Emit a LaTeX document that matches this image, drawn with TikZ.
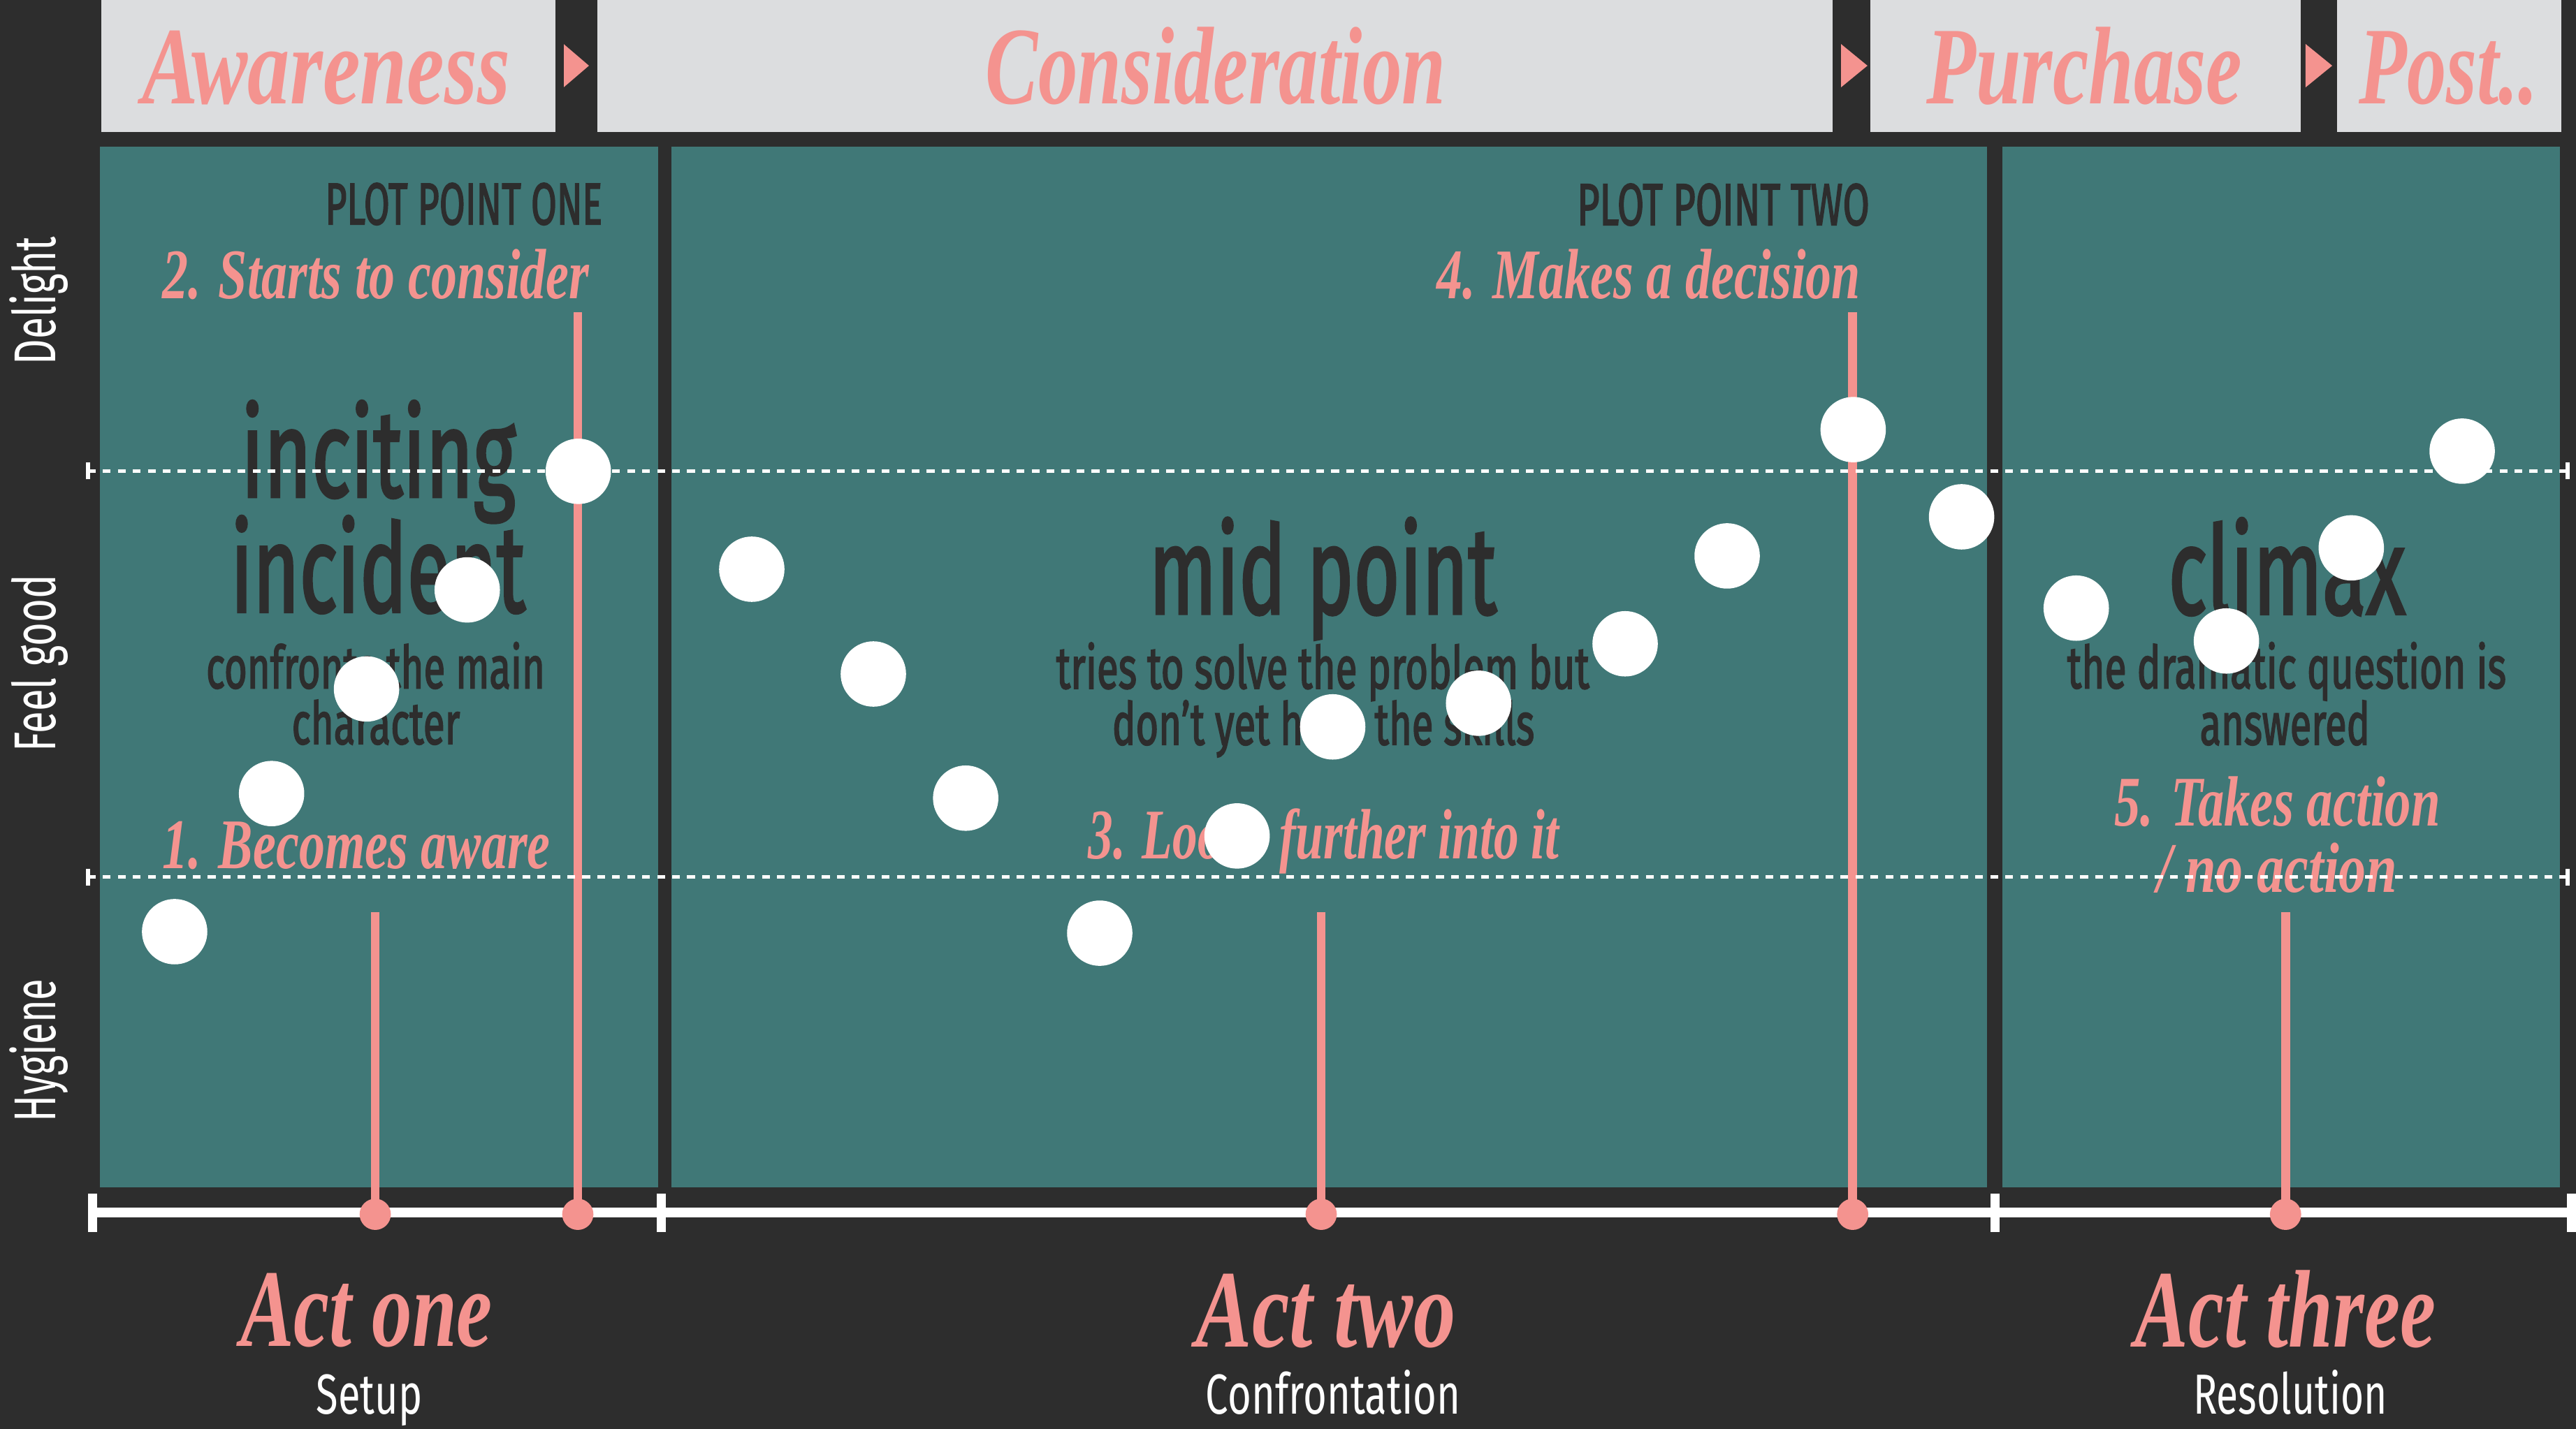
\documentclass[tikz,border=0pt]{standalone}
\usepackage{fontspec}
\usepackage{graphicx}
\newfontfamily\condf{Fira Sans}
\newfontfamily\condm{Fira Sans}[FakeBold=2.5]
\newfontfamily\scrf{Liberation Serif}
\definecolor{bgc}{HTML}{2D2D2D}
\definecolor{tealc}{HTML}{407877}
\definecolor{greyc}{HTML}{DCDDDF}
\definecolor{pinkc}{HTML}{F4938F}
\definecolor{darkc}{HTML}{2D2D2D}
\newlength\pxu
\setlength\pxu{0.023514cm}
\newcommand\fw[2]{\resizebox{#1\pxu}{\height}{#2}}
\tikzset{
  every node/.style={inner sep=0pt, outer sep=0pt},
  hdr/.style={font=\scrf\bfseries\itshape\fontsize{45}{45}\selectfont, text=pinkc, anchor=base},
  lbl/.style={font=\scrf\bfseries\itshape\fontsize{29}{29}\selectfont, text=pinkc, anchor=base},
  bigt/.style={font=\condm\fontsize{50}{50}\selectfont, text=darkc, anchor=base},
  subt/.style={font=\condm\fontsize{24}{24}\selectfont, text=darkc, anchor=base},
  plott/.style={font=\condm\fontsize{24}{24}\selectfont, text=darkc, anchor=base},
  axl/.style={font=\condf\fontsize{24}{24}\selectfont, text=white, anchor=base, rotate=90},
  actn/.style={font=\scrf\bfseries\itshape\fontsize{45}{45}\selectfont, text=pinkc, anchor=base},
  acts/.style={font=\condf\fontsize{23}{23}\selectfont, text=white, anchor=base},
  wdot/.style={circle, fill=white, minimum size=0.936cm},
  pdot/.style={circle, fill=pinkc, minimum size=0.447cm},
  pinkline/.style={draw=pinkc, line width=3.6pt},
  dashl/.style={draw=white, line width=1.4pt, dash pattern=on 3.2pt off 2.9pt},
  axisl/.style={draw=white, line width=4pt},
  tickl/.style={draw=white, line width=3.7pt},
  smalltick/.style={draw=white, line width=1.6pt},
  hbox/.style={fill=greyc},
  panel/.style={fill=tealc},
  tri/.style={fill=pinkc}
}
\begin{document}
\begin{tikzpicture}[x=0.023514cm, y=-0.023514cm]
\useasboundingbox (0,0) rectangle (1568,870);
\fill[bgc] (0,0) rectangle (1568,870);

% header boxes
\fill[hbox] (61.8,0) rectangle (338.3,80.3);
\fill[hbox] (363.5,0) rectangle (1115.6,80.3);
\fill[hbox] (1138.5,0) rectangle (1400.5,80.3);
\fill[hbox] (1422.5,0) rectangle (1559,80.3);
\fill[tri] (343.2,26.9) -- (358.5,40) -- (343.2,53.1) -- cycle;
\fill[tri] (1120.6,26.8) -- (1136.7,40) -- (1120.6,53.2) -- cycle;
\fill[tri] (1403.4,26.8) -- (1419.6,40) -- (1403.4,53.2) -- cycle;
\node[hdr] (hAw) at (198.4,63) {\fw{224}{Awareness}};
\node[hdr] (hCo) at (740,63) {\fw{280}{Consideration}};
\node[hdr] (hPu) at (1268.7,63) {\fw{192}{Purchase}};
\node[hdr] (hPo) at (1490.4,63) {\fw{109}{Post..}};

% panels
\fill[panel] (60.8,89.2) rectangle (400.6,723);
\fill[panel] (408.7,89.2) rectangle (1209.5,723);
\fill[panel] (1218.7,89.2) rectangle (1558.3,723);

% axis labels
\node[axl] (yDel) at (34,183) {\fw{78}{Delight}};
\node[axl] (yFeel) at (34,404) {\fw{108}{Feel good}};
\node[axl] (yHyg) at (34,639.5) {\fw{87}{Hygiene}};

% dark texts
\node[plott] (pp1) at (282.3,136.6) {\fw{168.7}{PLOT POINT ONE}};
\node[plott] (pp2) at (1049,137) {\fw{178}{PLOT POINT TWO}};
\node[bigt] (inc1) at (230.3,302.4) {\fw{167.2}{inciting}};
\node[bigt] (inc2) at (230.1,372.5) {\fw{179.5}{incident}};
\node[subt] (inc3) at (228.6,419) {\fw{206.2}{confronts the main}};
\node[subt] (inc4) at (228.8,453) {\fw{102.4}{character}};
\node[bigt] (mid1) at (805.2,373.6) {\fw{211.6}{mid point}};
\node[subt] (mid2) at (805.2,419.2) {\fw{324.5}{tries to solve the problem but}};
\node[subt] (mid3) at (805.5,453.4) {\fw{257}{don’t yet have the skills}};
\node[bigt] (cli1) at (1392,373.8) {\fw{144.3}{climax}};
\node[subt] (cli2) at (1391.9,419) {\fw{267.2}{the dramatic question is}};
\node[subt] (cli3) at (1390.8,453.4) {\fw{103.5}{answered}};

% pink labels
\node[lbl] (l2) at (228.8,182) {\fw{259.6}{2. Starts to consider}};
\node[lbl] (l4) at (1003.6,182) {\fw{257.7}{4. Makes a decision}};
\node[lbl] (l1) at (217,529) {\fw{236}{1. Becomes aware}};
\node[lbl] (l3) at (805.7,523) {\fw{286.6}{3. Looks further into it}};
\node[lbl] (l5a) at (1386.2,503) {\fw{198.5}{5. Takes action}};
\node[lbl] (l5b) at (1385.9,543.5) {\fw{146}{/ no action}};

% acts
\node[actn] (a1) at (223.1,819.6) {\fw{153.4}{Act one}};
\node[actn] (a2) at (807,820) {\fw{158}{Act two}};
\node[actn] (a3) at (1391,820) {\fw{183}{Act three}};
\node[acts] (s1) at (224.9,860.8) {\fw{64.5}{Setup}};
\node[acts] (s2) at (811.5,861) {\fw{155}{Confrontation}};
\node[acts] (s3) at (1394,861) {\fw{118}{Resolution}};

% bottom axis
\coordinate (axL) at (54.5,738.2);
\coordinate (axR) at (1568,738.2);
\draw[axisl] (axL) -- (axR);
\foreach \tx/\nm in {56.4/k0, 402.5/k1, 1214.2/k2, 1565.3/k3}{
  \coordinate (\nm a) at (\tx,727);
  \coordinate (\nm b) at (\tx,750);
  \draw[tickl] (\nm a) -- (\nm b);
}

% pink lines and dots
\foreach \px/\py/\nm in {228.4/555.4/p1, 351.7/190/p2, 804.2/555.4/p3, 1127.7/190/p4, 1391.2/555.6/p5}{
  \coordinate (\nm t) at (\px,\py);
  \node[pdot] (\nm d) at (\px,739.4) {};
  \draw[pinkline] (\nm t) -- (\nm d.center);
}

% dashed lines
\coordinate (dU1) at (53.5,286.8);
\coordinate (dU2) at (1563,286.8);
\coordinate (dL1) at (53.5,534.1);
\coordinate (dL2) at (1563,534.1);
\draw[dashl] (dU1) -- (dU2);
\draw[dashl] (dL1) -- (dL2);
\foreach \nm in {dU1,dU2,dL1,dL2}{
  \draw[smalltick] ([yshift=-0.12cm]\nm) -- ([yshift=0.12cm]\nm);
}

% white circles
\foreach \cx/\cy [count=\i] in {106.3/567.3, 165.3/483.2, 223.1/419.5, 284.4/359.2, 352/287,
  457.6/346.6, 531.6/410.4, 587.8/486, 669.4/568.2, 753/509, 811.2/442.6, 900/428.2,
  989.2/392, 1051.3/338.5, 1128/261.6, 1194/314.7, 1263.8/370.3, 1355.2/390.3, 1431.2/333.6, 1498.7/274.7}{
  \node[wdot] (c\i) at (\cx,\cy) {};
}
\end{tikzpicture}
\end{document}
